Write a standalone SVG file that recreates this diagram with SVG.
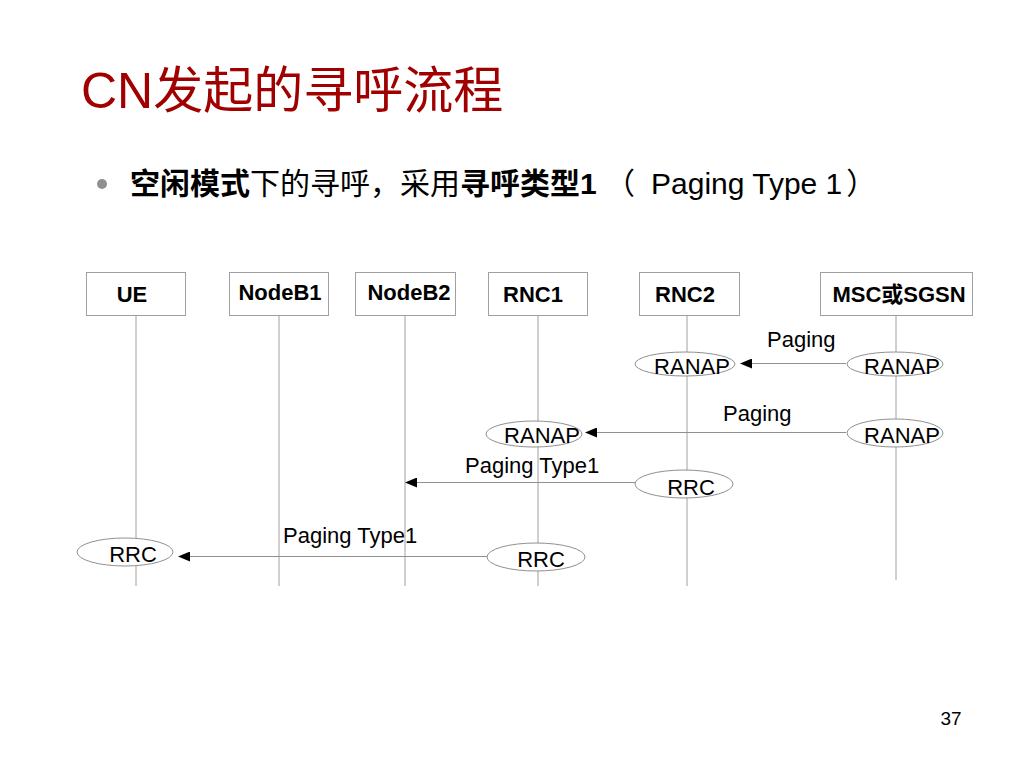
<svg xmlns="http://www.w3.org/2000/svg" width="1024" height="768" viewBox="0 0 1024 768">
<defs>
<style>
.box{fill:#fff;stroke:#a0a0a0;stroke-width:1}
.life{stroke:#a0a0a0;stroke-width:1;fill:none}
.msg{stroke:#909090;stroke-width:1;fill:none;marker-end:url(#ah)}
.ell{fill:#fff;stroke:#909090;stroke-width:1}
.nl{font-family:"Liberation Sans",Arial,"Noto Sans CJK SC",sans-serif;font-weight:bold;font-size:22px;fill:#000;text-anchor:middle}
.t{font-family:"Liberation Sans",Arial,"Noto Sans CJK SC",sans-serif;font-size:22px;fill:#000}
.c{text-anchor:middle}
</style>
<marker id="ah" viewBox="0 0 12 10" refX="0" refY="5" markerWidth="12" markerHeight="10" markerUnits="userSpaceOnUse" orient="auto">
<path d="M0,0 L12,5 L0,10 Z" fill="#000"/>
</marker>
</defs>
<rect width="1024" height="768" fill="#fff"/>
<text x="81" y="108" fill="#a00000" font-family="'Liberation Sans',Arial,'Noto Sans CJK SC',sans-serif" font-size="50">CN发起的寻呼流程</text>
<circle cx="102" cy="184" r="5" fill="#909090"/>
<text x="130" y="194" font-family="'Liberation Sans',Arial,'Noto Sans CJK SC',sans-serif" font-size="30" fill="#000"><tspan font-weight="bold">空闲模式</tspan><tspan>下的寻呼，采用</tspan><tspan font-weight="bold">寻呼类型1</tspan><tspan> （</tspan><tspan dx="16">Paging Type 1</tspan><tspan dx="4">）</tspan></text>
<g id="lifelines">
<line class="life" x1="136" y1="316" x2="136" y2="586"/>
<line class="life" x1="279" y1="316" x2="279" y2="586"/>
<line class="life" x1="405" y1="316" x2="405" y2="586"/>
<line class="life" x1="538" y1="316" x2="538" y2="586"/>
<line class="life" x1="687" y1="316" x2="687" y2="586"/>
<line class="life" x1="896" y1="316" x2="896" y2="580"/>
</g>
<g id="UE"><rect class="box" x="86.5" y="272.5" width="99" height="43"/><text class="nl" x="132" y="302">UE</text></g>
<g id="NodeB1"><rect class="box" x="229.5" y="272.5" width="99" height="43"/><text class="nl" x="280" y="300">NodeB1</text></g>
<g id="NodeB2"><rect class="box" x="355.5" y="272.5" width="100" height="43"/><text class="nl" x="409" y="300">NodeB2</text></g>
<g id="RNC1"><rect class="box" x="488.5" y="272.5" width="99" height="43"/><text class="nl" x="533" y="302">RNC1</text></g>
<g id="RNC2"><rect class="box" x="639.5" y="272.5" width="100" height="43"/><text class="nl" x="685" y="302">RNC2</text></g>
<g id="MSC"><rect class="box" x="820.5" y="272.5" width="152" height="43"/><text class="nl" x="899" y="302">MSC或SGSN</text></g>
<g id="connectors">
<line class="msg" x1="846" y1="363.5" x2="752" y2="363.5"/>
<line class="msg" x1="846" y1="432.5" x2="597" y2="432.5"/>
<line class="msg" x1="635" y1="482.5" x2="417" y2="482.5"/>
<line class="msg" x1="487" y1="556.5" x2="190" y2="556.5"/>
<text class="t" x="767" y="347">Paging</text>
<text class="t" x="723" y="421">Paging</text>
<text class="t" x="465" y="473">Paging Type1</text>
<text class="t" x="283" y="543">Paging Type1</text>
</g>
<g id="rnc2-ranap"><ellipse class="ell" cx="685" cy="364" rx="50" ry="12"/><text class="t c" x="692" y="374">RANAP</text></g>
<g id="msc-ranap1"><ellipse class="ell" cx="895" cy="364" rx="48" ry="12"/><text class="t c" x="902" y="374">RANAP</text></g>
<g id="msc-ranap2"><ellipse class="ell" cx="895" cy="433" rx="48" ry="14"/><text class="t c" x="902" y="443">RANAP</text></g>
<g id="rnc1-ranap"><ellipse class="ell" cx="534" cy="434" rx="48" ry="13"/><text class="t c" x="542" y="443">RANAP</text></g>
<g id="rnc2-rrc"><ellipse class="ell" cx="684" cy="484" rx="49" ry="14"/><text class="t c" x="691" y="495">RRC</text></g>
<g id="ue-rrc"><ellipse class="ell" cx="125" cy="552" rx="48" ry="14"/><text class="t c" x="133" y="562">RRC</text></g>
<g id="rnc1-rrc"><ellipse class="ell" cx="536" cy="557" rx="49" ry="14"/><text class="t c" x="541" y="567">RRC</text></g>
<text x="951" y="725" font-family="'Liberation Sans',Arial,sans-serif" font-size="19" fill="#000" text-anchor="middle">37</text>
</svg>
